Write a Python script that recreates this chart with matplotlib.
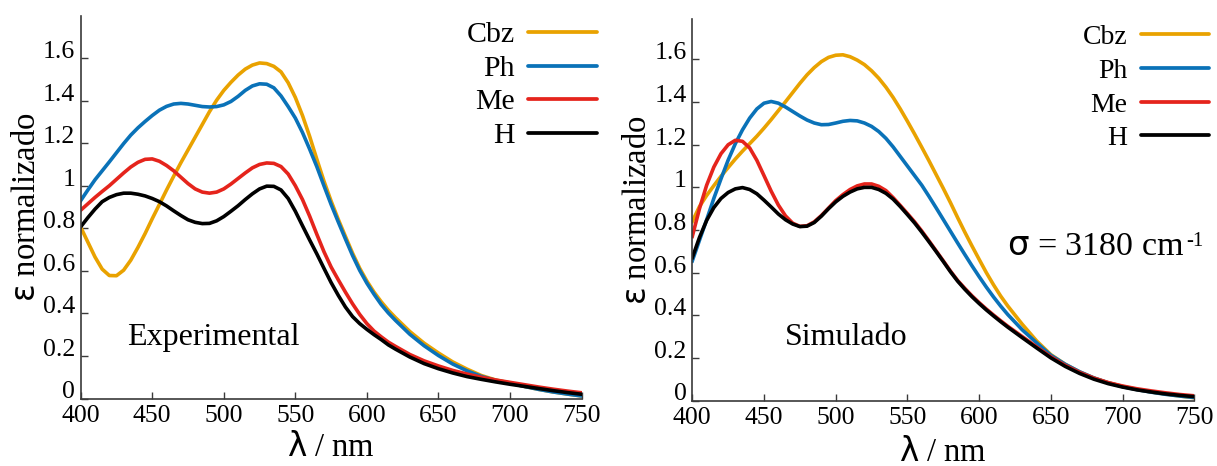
import numpy as np
import matplotlib
matplotlib.use("Agg")
import matplotlib.pyplot as plt
from matplotlib.lines import Line2D

plt.rcParams['font.family'] = ['Liberation Serif', 'DejaVu Serif']
plt.rcParams['mathtext.fontset'] = 'custom'
plt.rcParams['mathtext.rm'] = 'Liberation Serif'
plt.rcParams['mathtext.sf'] = 'DejaVu Sans'

# wavelength grid (nm): 5 nm steps up to 620, then 10 nm steps
wl = np.concatenate([np.arange(400, 621, 5), np.arange(630, 751, 10)])

# experimental spectra
exp_cbz = [0.805, 0.735, 0.665, 0.608, 0.578, 0.577, 0.603, 0.65, 0.71, 0.775,
           0.845, 0.912, 0.98, 1.045, 1.108, 1.168, 1.228, 1.288, 1.348, 1.402,
           1.448, 1.486, 1.52, 1.548, 1.567, 1.577, 1.574, 1.561, 1.535, 1.484,
           1.415, 1.33, 1.232, 1.125, 1.022, 0.928, 0.842, 0.762, 0.683, 0.612,
           0.552, 0.5, 0.455, 0.415, 0.38,
           0.315, 0.26, 0.214, 0.172, 0.138, 0.108, 0.087, 0.073, 0.057, 0.043,
           0.031, 0.021, 0.012]
exp_ph = [0.93, 0.98, 1.028, 1.07, 1.112, 1.155, 1.198, 1.238, 1.272, 1.302,
          1.33, 1.355, 1.373, 1.384, 1.387, 1.384, 1.378, 1.372, 1.37, 1.372,
          1.38, 1.396, 1.42, 1.448, 1.469, 1.479, 1.477, 1.46, 1.422, 1.372,
          1.318, 1.25, 1.172, 1.09, 1.0, 0.912, 0.83, 0.75, 0.672, 0.602,
          0.542, 0.49, 0.442, 0.402, 0.367,
          0.302, 0.248, 0.202, 0.162, 0.13, 0.104, 0.085, 0.072, 0.057, 0.043,
          0.031, 0.021, 0.012]
exp_me = [0.885, 0.915, 0.945, 0.973, 1.0, 1.03, 1.06, 1.088, 1.11, 1.124,
          1.126, 1.115, 1.095, 1.07, 1.04, 1.01, 0.985, 0.97, 0.965, 0.97,
          0.985, 1.008, 1.034, 1.06, 1.084, 1.1, 1.107, 1.105, 1.09, 1.055,
          1.0, 0.935, 0.857, 0.772, 0.69, 0.618, 0.558, 0.5, 0.445, 0.395,
          0.352, 0.317, 0.29, 0.265, 0.245,
          0.207, 0.177, 0.153, 0.132, 0.115, 0.1, 0.087, 0.076, 0.065, 0.054,
          0.044, 0.035, 0.027]
exp_h = [0.807, 0.85, 0.89, 0.925, 0.945, 0.958, 0.965, 0.965, 0.96, 0.952,
         0.94, 0.925, 0.905, 0.882, 0.86, 0.84, 0.828, 0.822, 0.823, 0.835,
         0.855, 0.88, 0.906, 0.935, 0.962, 0.985, 0.998, 0.997, 0.98, 0.94,
         0.88, 0.812, 0.745, 0.68, 0.612, 0.545, 0.485, 0.43, 0.385, 0.352,
         0.325, 0.3, 0.277, 0.252, 0.232,
         0.195, 0.164, 0.14, 0.12, 0.103, 0.09, 0.078, 0.067, 0.057, 0.047,
         0.037, 0.028, 0.02]

# simulated spectra (sigma = 3180 cm-1)
sim_cbz = [0.84, 0.91, 0.962, 1.008, 1.052, 1.093, 1.133, 1.17, 1.205, 1.24,
           1.278, 1.318, 1.36, 1.402, 1.445, 1.488, 1.528, 1.562, 1.59, 1.61,
           1.62, 1.622, 1.613, 1.597, 1.576, 1.547, 1.512, 1.47, 1.422, 1.368,
           1.31, 1.25, 1.188, 1.125, 1.06, 0.995, 0.928, 0.858, 0.79, 0.725,
           0.662, 0.6, 0.543, 0.49, 0.443,
           0.358, 0.28, 0.215, 0.17, 0.134, 0.105, 0.083, 0.066, 0.052, 0.04,
           0.03, 0.021, 0.013]
sim_ph = [0.655, 0.752, 0.848, 0.948, 1.04, 1.128, 1.205, 1.27, 1.325, 1.368,
          1.395, 1.403, 1.395, 1.377, 1.356, 1.335, 1.316, 1.302, 1.294, 1.295,
          1.302, 1.31, 1.314, 1.312, 1.302, 1.286, 1.262, 1.23, 1.19, 1.145,
          1.1, 1.055, 1.01, 0.958, 0.904, 0.849, 0.794, 0.739, 0.685, 0.632,
          0.581, 0.532, 0.486, 0.443, 0.403,
          0.332, 0.271, 0.212, 0.17, 0.135, 0.106, 0.083, 0.065, 0.051, 0.039,
          0.029, 0.021, 0.014]
sim_me = [0.77, 0.9, 1.01, 1.095, 1.158, 1.2, 1.221, 1.216, 1.185, 1.127,
          1.055, 0.982, 0.917, 0.866, 0.832, 0.817, 0.82, 0.838, 0.868, 0.903,
          0.938, 0.966, 0.99, 1.007, 1.016, 1.016, 1.005, 0.985, 0.952, 0.915,
          0.877, 0.838, 0.795, 0.749, 0.702, 0.655, 0.607, 0.563, 0.526, 0.491,
          0.459, 0.429, 0.401, 0.374, 0.348,
          0.3, 0.252, 0.205, 0.165, 0.132, 0.105, 0.084, 0.068, 0.055, 0.045,
          0.036, 0.028, 0.022]
sim_h = [0.67, 0.765, 0.845, 0.905, 0.948, 0.976, 0.993, 0.999, 0.99, 0.97,
         0.94, 0.908, 0.875, 0.848, 0.828, 0.816, 0.818, 0.835, 0.865, 0.9,
         0.932, 0.958, 0.978, 0.993, 1.0, 1.0, 0.99, 0.972, 0.945, 0.91,
         0.872, 0.833, 0.79, 0.745, 0.699, 0.652, 0.604, 0.56, 0.522, 0.487,
         0.455, 0.425, 0.397, 0.37, 0.344,
         0.295, 0.247, 0.2, 0.16, 0.127, 0.1, 0.079, 0.063, 0.05, 0.04,
         0.031, 0.024, 0.018]

names = ['Cbz', 'Ph', 'Me', 'H']
colors = ['#E9A200', '#0A72B8', '#E5241C', '#000000']
yticks = [0, 0.2, 0.4, 0.6, 0.8, 1.0, 1.2, 1.4, 1.6]
ytick_labels = ['0', '0.2', '0.4', '0.6', '0.8', '1', '1.2', '1.4', '1.6']
xticks = [400, 450, 500, 550, 600, 650, 700, 750]

W, H = 1217, 466
fig = plt.figure(figsize=(W / 100, H / 100), dpi=100)


def px(x, y):
    # pixel position (from top-left) -> figure fraction
    return x / W, 1 - y / H


def setup(ax, ytop):
    ax.set_xlim(400, 750)
    ax.set_ylim(0, ytop)
    for s in ['top', 'right']:
        ax.spines[s].set_visible(False)
    for s in ['left', 'bottom']:
        ax.spines[s].set_color('#3a3a3a')
        ax.spines[s].set_linewidth(1.2)
    ax.set_xticks(xticks)
    ax.set_yticks(yticks)
    ax.set_yticklabels(ytick_labels)
    ax.tick_params(direction='in', length=5, width=1, color='#3a3a3a',
                   labelsize=18.5)
    ax.tick_params(axis='x', pad=5)
    ax.tick_params(axis='y', pad=4)
    for lab in ax.get_yticklabels():
        lab.set_verticalalignment('baseline')
    ax.set_xlabel(r'$\mathsf{\lambda}$ / nm', fontsize=23.5)
    ax.set_ylabel(r'$\mathsf{\varepsilon}$ normalizado', fontsize=23.5)


def legend(xr, x0, x1, rows, fs):
    for name, c, y in zip(names, colors, rows):
        fig.text(*px(xr, y + 10), name, ha='right', va='baseline', fontsize=fs)
        fx0, fy = px(x0, y)
        fx1, _ = px(x1, y)
        fig.add_artist(Line2D([fx0, fx1], [fy, fy], color=c, lw=2.7,
                              solid_capstyle='round'))


# left panel: experimental
ax1 = fig.add_axes([80.7 / W, 1 - 398.5 / H, 500.8 / W, 383 / H])
for ys, c in zip([exp_cbz, exp_ph, exp_me, exp_h], colors):
    ax1.plot(wl, ys, color=c, lw=2.6)
setup(ax1, 1.8)
ax1.xaxis.set_label_coords(0.5, -0.088)
ax1.yaxis.set_label_coords(-0.078, 0.5)
ax1.text(0.0925, 0.14, 'Experimental', transform=ax1.transAxes,
         fontsize=23, ha='left', va='baseline')
legend(515, 528, 597, [32, 66, 99, 133], 21.5)

# right panel: simulated
ax2 = fig.add_axes([692.3 / W, 1 - 400.5 / H, 502 / W, 381.5 / H])
for ys, c in zip([sim_cbz, sim_ph, sim_me, sim_h], colors):
    ax2.plot(wl, ys, color=c, lw=2.6)
setup(ax2, 1.79)
ax2.xaxis.set_label_coords(0.5, -0.098)
ax2.yaxis.set_label_coords(-0.078, 0.5)
ax2.text(0.1847, 0.1455, 'Simulado', transform=ax2.transAxes,
         fontsize=23, ha='left', va='baseline')
sig = ax2.text(0.627, 0.381, r'$\mathsf{\sigma}$ = 3180 cm',
               transform=ax2.transAxes, fontsize=24.5, ha='left',
               va='baseline')
ax2.annotate('-1', xy=(1, 1), xycoords=sig, xytext=(1, 0),
             textcoords='offset points', fontsize=15, ha='left', va='top')
legend(1127, 1141, 1209, [34, 68, 102, 135], 20)

fig.savefig('out.png', dpi=100)
